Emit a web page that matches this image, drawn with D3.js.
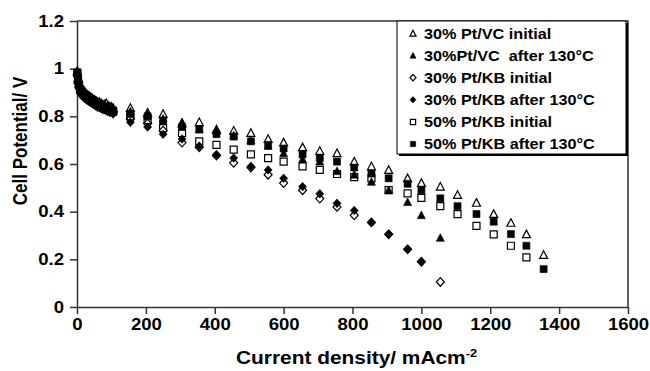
<!DOCTYPE html>
<html><head><meta charset="utf-8">
<script src="https://cdn.jsdelivr.net/npm/d3@7/dist/d3.min.js"></script>
<style>
body{margin:0;background:#fff}
svg{display:block}
text{font-family:"Liberation Sans",Arial,sans-serif;font-weight:bold;fill:#000}
</style>
</head><body>
<svg id="c" width="650" height="371"></svg>
<script>
// ---------- data ----------
const xTicks = [0,200,400,600,800,1000,1200,1400,1600];
const yTicks = [0,0.2,0.4,0.6,0.8,1,1.2];
const seriesNames = ["30% Pt/VC initial","30%Pt/VC  after 130°C","30% Pt/KB initial","30% Pt/KB after 130°C","50% Pt/KB initial","50% Pt/KB after 130°C"];
const xTitle = "Current density/ mAcm";
const yTitle = "Cell Potential/ V";

// low-current cluster (x in mA/cm2)
const clusterX = [1,3,6,10,15,20,25,30,35,40,45,50,55,60,65,70,75,80,85,90,95,100,105];
const vcInitLow  = [0.99,0.96,0.94,0.92,0.91,0.90,0.895,0.89,0.885,0.88,0.875,0.87,0.865,0.86,0.86,0.855,0.85,0.85,0.855,0.845,0.84,0.84,0.835];
const vcAfterLow = [0.98,0.95,0.93,0.91,0.90,0.895,0.89,0.88,0.875,0.87,0.865,0.86,0.855,0.855,0.85,0.845,0.845,0.84,0.84,0.835,0.835,0.83,0.83];
const kbInitLow  = [0.97,0.94,0.92,0.90,0.89,0.88,0.875,0.87,0.865,0.86,0.855,0.85,0.845,0.84,0.84,0.835,0.83,0.83,0.825,0.825,0.82,0.82,0.815];
const kbAfterLow = [0.975,0.945,0.925,0.905,0.895,0.885,0.88,0.872,0.866,0.86,0.855,0.85,0.847,0.843,0.84,0.835,0.832,0.828,0.825,0.82,0.818,0.815,0.81];
const p50InitLow = [0.98,0.95,0.93,0.91,0.90,0.89,0.885,0.878,0.872,0.866,0.862,0.858,0.853,0.85,0.846,0.842,0.838,0.835,0.832,0.83,0.826,0.823,0.82];
const p50AfterLow= [0.985,0.955,0.935,0.915,0.905,0.895,0.89,0.884,0.878,0.872,0.868,0.863,0.858,0.855,0.85,0.847,0.843,0.84,0.837,0.834,0.831,0.828,0.825];

// main columns
const xMain = [155,205,250,305,355,405,455,505,555,600,655,705,755,805,855,905,960,1000,1055,1105,1160,1210,1260,1305,1355];
const vcInit  = [0.835,0.815,0.81,0.77,0.775,0.745,0.74,0.73,0.705,0.69,0.67,0.655,0.645,0.61,0.59,0.575,0.54,0.52,0.505,0.47,0.437,0.39,0.353,0.305,0.218];
const vcAfter = [0.82,0.81,0.79,0.775,0.745,0.74,0.72,0.70,0.675,0.645,0.62,0.61,0.57,0.555,0.525,0.49,0.44,0.385,0.29];
const kbInit  = [0.79,0.77,0.74,0.69,0.67,0.635,0.605,0.585,0.555,0.52,0.49,0.455,0.42,0.385,0.355,0.305,0.242,0.19,0.105];
const kbAfter = [0.775,0.755,0.725,0.705,0.675,0.64,0.625,0.59,0.575,0.54,0.505,0.475,0.435,0.405,0.355,0.305,0.242,0.19];
const p50Init = [0.80,0.784,0.75,0.73,0.695,0.68,0.66,0.64,0.625,0.61,0.59,0.575,0.558,0.545,0.54,0.49,0.477,0.458,0.423,0.39,0.34,0.305,0.257,0.208];
const p50After= [0.81,0.80,0.78,0.755,0.745,0.725,0.715,0.695,0.68,0.665,0.64,0.625,0.61,0.585,0.56,0.54,0.517,0.49,0.456,0.423,0.39,0.358,0.306,0.257,0.159];

// ---------- layout ----------
const SX = 1.16;            // horizontal text stretch of the original
const L = 77, R = 628, T = 21, B = 307;
const svg = d3.select("#c");
const x = d3.scaleLinear().domain([0,1600]).range([L,R]);
const y = d3.scaleLinear().domain([0,1.2]).range([B,T]);
const axisCol = "#333";

// plot frame (top, right)
svg.append("path").attr("d",`M${L},${T}H${R}V${B}`).attr("fill","none").attr("stroke",axisCol).attr("stroke-width",1.5);

// axes
const gx = svg.append("g").attr("transform",`translate(0,${B})`)
  .call(d3.axisBottom(x).tickValues(xTicks).tickSize(7).tickSizeOuter(0).tickPadding(5).tickFormat(d3.format("d")));
const gy = svg.append("g").attr("transform",`translate(${L},0)`)
  .call(d3.axisLeft(y).tickValues(yTicks).tickSize(7).tickSizeOuter(0).tickPadding(6).tickFormat(d=>String(+d.toFixed(1))));
[gx,gy].forEach(g=>{
  g.select(".domain").attr("stroke",axisCol).attr("stroke-width",1.5);
  g.selectAll(".tick line").attr("stroke",axisCol).attr("stroke-width",1.5);
  g.selectAll(".tick text").attr("font-size",16).attr("font-family",null).attr("fill","#000");
});
gx.selectAll(".tick text").attr("transform",`scale(${SX},1)`);
gy.selectAll(".tick text").each(function(){
  const t=d3.select(this); const xx=+t.attr("x");
  t.attr("x",xx/SX).attr("transform",`scale(${SX},1)`);
});

// axis titles
const xt = svg.append("text").attr("transform",`translate(${(L+R)/2+4},364) scale(${SX},1)`)
  .attr("text-anchor","middle").attr("font-size",18);
xt.append("tspan").text(xTitle);
xt.append("tspan").attr("font-size",11).attr("dy",-7).text("-2");
svg.append("text").attr("transform",`translate(27,141) rotate(-90) scale(1,${SX})`)
  .attr("text-anchor","middle").attr("font-size",17).text(yTitle);

// marker shapes
const shapes = {
  tri: s=>`M0,${-4.2*s}L${4*s},${3.4*s}L${-4*s},${3.4*s}Z`,
  dia: s=>`M0,${-4.3*s}L${4*s},0L0,${4.3*s}L${-4*s},0Z`,
  sq:  s=>`M${-3.5*s},${-3.5*s}h${7*s}v${7*s}h${-7*s}Z`
};
const series = [
  {name:seriesNames[0], low:vcInitLow,  main:vcInit,  shape:"tri", filled:false},
  {name:seriesNames[1], low:vcAfterLow, main:vcAfter, shape:"tri", filled:true},
  {name:seriesNames[2], low:kbInitLow,  main:kbInit,  shape:"dia", filled:false},
  {name:seriesNames[3], low:kbAfterLow, main:kbAfter, shape:"dia", filled:true},
  {name:seriesNames[4], low:p50InitLow, main:p50Init, shape:"sq",  filled:false},
  {name:seriesNames[5], low:p50AfterLow,main:p50After,shape:"sq",  filled:true}
];
function styleMarker(sel, s){
  sel.attr("fill", s.filled ? "#000" : "none")
     .attr("stroke","#000").attr("stroke-width", s.filled ? 0.6 : 1.2);
}
series.forEach(s=>{
  const pts = clusterX.map((xv,i)=>[xv,s.low[i]]).concat(s.main.map((v,i)=>[xMain[i],v]));
  const g = svg.append("g");
  g.selectAll("path").data(pts).enter().append("path")
    .attr("d",shapes[s.shape](1))
    .attr("transform",d=>`translate(${x(d[0])},${y(d[1])})`)
    .call(styleMarker,s);
});

// legend
const lg = svg.append("g");
const LX0=397, LY0=21, LX1=626, LY1=154;
lg.append("rect").attr("x",LX0+2).attr("y",LY0+2).attr("width",LX1-LX0).attr("height",LY1-LY0).attr("fill","#000");
lg.append("rect").attr("x",LX0).attr("y",LY0).attr("width",LX1-LX0).attr("height",LY1-LY0).attr("fill","#fff").attr("stroke","#000").attr("stroke-width",1);
series.forEach((s,i)=>{
  const cy = 33.5 + i*22.1;
  lg.append("path").attr("d",shapes[s.shape](0.75)).attr("transform",`translate(413,${cy})`).call(styleMarker,s);
  lg.append("text").attr("transform",`translate(424,${cy+5}) scale(${SX},1)`)
    .attr("font-size",14).style("white-space","pre").text(s.name);
});
</script>
</body></html>
